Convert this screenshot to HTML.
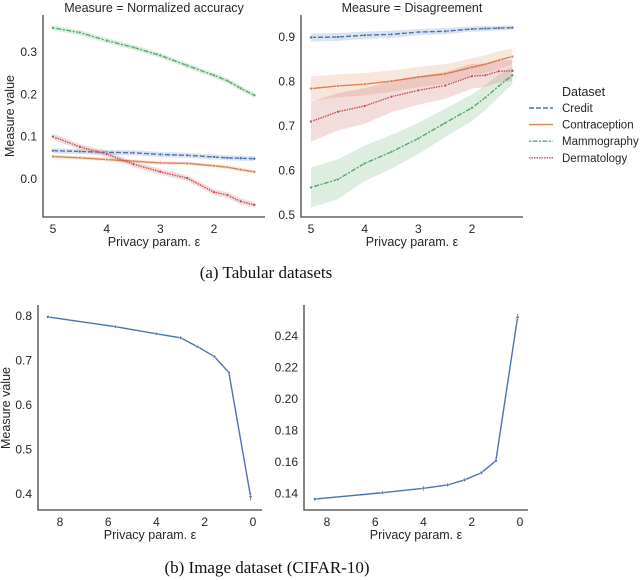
<!DOCTYPE html>
<html><head><meta charset="utf-8"><style>
html,body{margin:0;padding:0;background:#fff;}
svg{display:block;font-family:"Liberation Sans",Arial,sans-serif;}
.tk{font-size:12px;fill:#262626;}
.lb{font-size:12.5px;fill:#262626;}
.lg{font-size:11.5px;fill:#262626;}
.cap{font-family:"Liberation Serif",serif;font-size:17px;fill:#111;}
</style></head><body>
<svg id="fig" width="640" height="580" viewBox="0 0 640 580"></svg>
<script>
// ---- data ----
const epsTab = [5,4.5,4,3.5,3,2.5,2,1.75,1.5,1.25];
const seriesNames = ["Credit","Contraception","Mammography","Dermatology"];
const accCredit = [0.067,0.065,0.063,0.062,0.058,0.056,0.052,0.050,0.049,0.048];
const accContra = [0.053,0.050,0.046,0.042,0.038,0.037,0.031,0.028,0.022,0.017];
const accMammo = [0.357,0.346,0.327,0.311,0.292,0.268,0.245,0.232,0.214,0.198];
const accDerma = [0.100,0.076,0.059,0.035,0.017,0.002,-0.031,-0.038,-0.053,-0.061];
const disCredit = [0.899,0.900,0.904,0.906,0.911,0.913,0.918,0.919,0.920,0.921];
const disContra = [0.784,0.790,0.794,0.801,0.810,0.817,0.832,0.839,0.848,0.856];
const disMammo = [0.562,0.580,0.616,0.642,0.672,0.707,0.741,0.764,0.790,0.814];
const disDerma = [0.710,0.732,0.745,0.766,0.780,0.791,0.812,0.814,0.823,0.824];
const bandAcc = [0.006,0.004,0.006,0.007];
const bandDisCredit = [0.009,0.009,0.008,0.008,0.007,0.007,0.006,0.006,0.005,0.005];
const bandDisContra = [0.027,0.026,0.025,0.024,0.023,0.022,0.02,0.02,0.02,0.018];
const bandDisMammo = [0.045,0.045,0.04,0.038,0.035,0.032,0.03,0.028,0.025,0.02];
const bandDisDerma = [0.045,0.042,0.04,0.035,0.032,0.03,0.028,0.026,0.025,0.024];
const epsImg = [8.5,5.7,4,3,2.3,1.6,1,0.1];
const imgAcc = [0.798,0.776,0.760,0.751,0.731,0.709,0.673,0.394];
const imgAccErr = [0.003,0.003,0.003,0.003,0.003,0.003,0.003,0.008];
const imgDis = [0.1365,0.1405,0.1433,0.1454,0.1486,0.1532,0.1608,0.2519];
const imgDisErr = [0.001,0.0012,0.0015,0.0012,0.0012,0.0012,0.0012,0.002];
const xTicksTab = [5,4,3,2];
const yTicksAcc = [0.0,0.1,0.2,0.3];
const yTicksDis = [0.5,0.6,0.7,0.8,0.9];
const xTicksImg = [8,6,4,2,0];
const yTicksImgAcc = [0.4,0.5,0.6,0.7,0.8];
const yTicksImgDis = [0.14,0.16,0.18,0.20,0.22,0.24];

const NS="http://www.w3.org/2000/svg";
const svg=document.getElementById('fig');
function mk(tag,attrs,parent,text){const e=document.createElementNS(NS,tag);for(const k in attrs)e.setAttribute(k,attrs[k]);if(text!==undefined)e.textContent=text;(parent||svg).appendChild(e);return e;}
const colors=["#4c72b0","#dd8452","#55a868","#c44e52"];
const dashes=["5,2","","2,1.5,5,1.5","1.5,1"];

function panel(name,x0,x1,y0,y1,ex0,ex1,vy0,vy1){
  const g=mk('g',{});
  
  
  const sx=e=>x0+(ex0-e)/(ex0-ex1)*(x1-x0);
  const sy=v=>y0-(v-vy0)/(vy1-vy0)*(y0-y1);
  return {g,sx,sy};
}
function axes(p,ax0,ax1,ay0,ay1,xt,yt,fmt,xlabelY,name){
  const a=mk('path',{d:`M${ax0},${ay1} V${ay0} H${ax1}`,stroke:'#444',fill:'none','stroke-width':1.3},p.g);
  
  
  xt.forEach(t=>{const e=mk('text',{x:p.sx(t),y:ay0+16,'text-anchor':'middle',class:'tk'},p.g,String(t));
    });
  yt.forEach(t=>{const e=mk('text',{x:ax0-6,y:p.sy(t)+4,'text-anchor':'end',class:'tk'},p.g,t.toFixed(fmt));
    });
  const xl=mk('text',{x:(ax0+ax1)/2,y:xlabelY,'text-anchor':'middle',class:'lb'},p.g,'Privacy param. ε');
  
}
function series(p,xs,ys,band,i,name,dash,err){
  if(band){
    let top=xs.map((e,k)=>`${p.sx(e)},${p.sy(ys[k]+band[k])}`);
    let bot=xs.map((e,k)=>`${p.sx(e)},${p.sy(ys[k]-band[k])}`).reverse();
    const b=mk('polygon',{points:top.concat(bot).join(' '),fill:colors[i],'fill-opacity':0.2,stroke:'none'},p.g);
    
  }
  const l=mk('polyline',{points:xs.map((e,k)=>`${p.sx(e)},${p.sy(ys[k])}`).join(' '),fill:'none',stroke:colors[i],'stroke-width':1.4,'stroke-dasharray':dash},p.g);
  
  xs.forEach((e,k)=>{
    if(err){const eb=mk('line',{x1:p.sx(e),x2:p.sx(e),y1:p.sy(ys[k]-err[k]),y2:p.sy(ys[k]+err[k]),stroke:colors[i],'stroke-width':1.1},p.g);
      }
    const c=mk('circle',{cx:p.sx(e),cy:p.sy(ys[k]),r:1.5,fill:colors[i],stroke:'#fff','stroke-width':0.5},p.g);
    });
}

// Top-left
let p1=panel('accuracy-panel',53,214,179,52,5,2,0,0.3);
axes(p1,43,265,217,15,xTicksTab,yTicksAcc,1,246,'accuracy');
[accCredit,accContra,accMammo,accDerma].forEach((s,i)=>series(p1,epsTab,s,epsTab.map(()=>bandAcc[i]),i,'acc-'+seriesNames[i].toLowerCase(),dashes[i]));
let t1=mk('text',{x:154,y:12,'text-anchor':'middle',class:'lb'},p1.g,'Measure = Normalized accuracy');

let yl=mk('text',{transform:'translate(14,116) rotate(-90)','text-anchor':'middle',class:'lb'},p1.g,'Measure value');


// Top-right
let p2=panel('disagreement-panel',311,472,215,37,5,2,0.5,0.9);
axes(p2,301,523,217,15,xTicksTab,yTicksDis,1,246,'disagreement');
const dBands=[bandDisCredit,bandDisContra,bandDisMammo,bandDisDerma];
[disCredit,disContra,disMammo,disDerma].forEach((s,i)=>series(p2,epsTab,s,dBands[i],i,'dis-'+seriesNames[i].toLowerCase(),dashes[i]));
let t2=mk('text',{x:412,y:12,'text-anchor':'middle',class:'lb'},p2.g,'Measure = Disagreement');


// Legend
const lg=mk('g',{});

let lt=mk('text',{x:562,y:96,class:'lb'},lg,'Dataset');

seriesNames.forEach((n,i)=>{
  const y=108+i*16.6;
  const ent=mk('g',{},lg);
  
  mk('line',{x1:529,x2:553,y1:y,y2:y,stroke:colors[i],'stroke-width':1.4,'stroke-dasharray':dashes[i]},ent);
  mk('text',{x:562,y:y+4,class:'lg'},ent,n);
});

let c1=mk('text',{x:266,y:278,'text-anchor':'middle',class:'cap'},svg,'(a) Tabular datasets');


// Bottom-left
let p3=panel('image-accuracy-panel',60,253,494,316,8,0,0.4,0.8);
axes(p3,38,262,510,305,xTicksImg,yTicksImgAcc,1,539,'image-accuracy');
series(p3,epsImg,imgAcc,null,0,'image-accuracy','',imgAccErr);
let yl2=mk('text',{transform:'translate(10,408) rotate(-90)','text-anchor':'middle',class:'lb'},p3.g,'Measure value');


// Bottom-right
let p4=panel('image-disagreement-panel',327,520,462,336,8,0,0.16,0.24);
axes(p4,304,528,510,305,xTicksImg,yTicksImgDis,2,539,'image-disagreement');
series(p4,epsImg,imgDis,null,0,'image-disagreement','',imgDisErr);

let c2=mk('text',{x:267,y:573,'text-anchor':'middle',class:'cap'},svg,'(b) Image dataset (CIFAR-10)');

</script>
</body></html>
